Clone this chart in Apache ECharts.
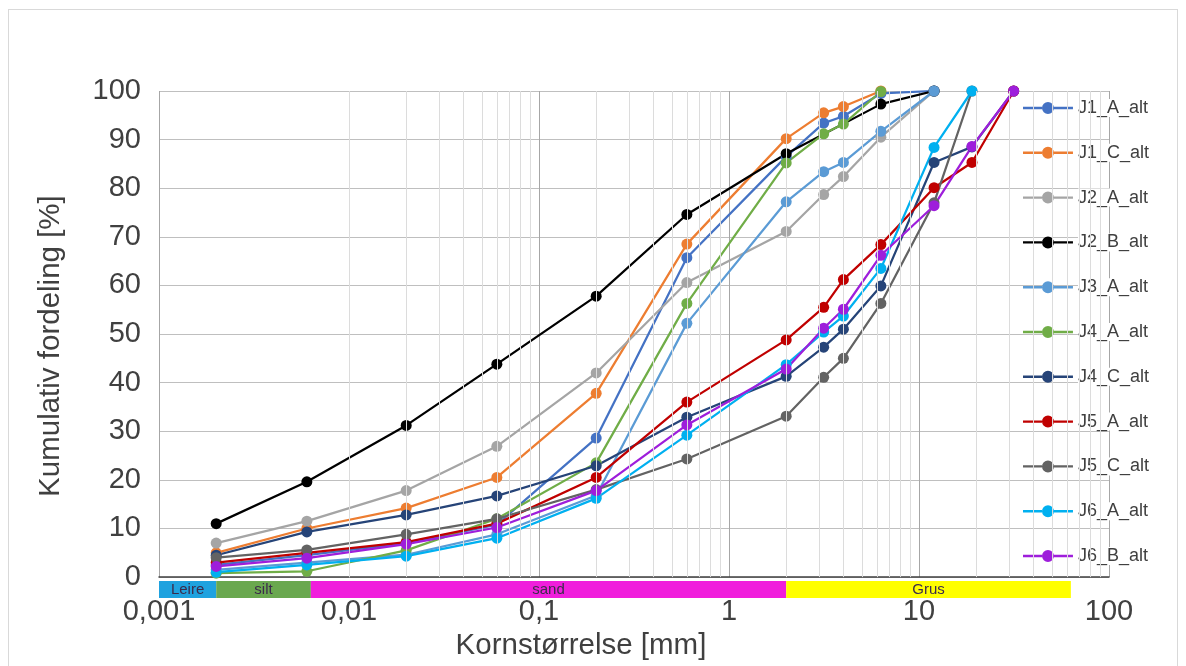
<!DOCTYPE html>
<html>
<head>
<meta charset="utf-8">
<script src="https://cdn.jsdelivr.net/npm/echarts@6/dist/echarts.min.js"></script>
<style>
  html, body { margin: 0; padding: 0; background: #fff; }
  #frame { position: absolute; left: 8px; top: 9px; width: 1170px; height: 660px; border: 1px solid #D9D9D9; box-sizing: border-box; }
  #chart { position: absolute; left: 0; top: 0; width: 1186px; height: 666px; }
</style>
</head>
<body>
<div id="frame"></div>
<div id="chart"></div>
<script>
// ── Data ───────────────────────────────────────────────
const SIZES = [0.002, 0.006, 0.02, 0.06, 0.2, 0.6, 2, 3.15, 4, 6.3, 12, 19, 31.5];

const J1_A = [2.5, 4.5, 7, 10.8, 28.6, 65.7, 86.5, 93.4, 94.8, 99.5, 100, null, null];
const J1_C = [5, 10, 14.2, 20.5, 37.8, 68.5, 90.2, 95.5, 96.8, 100, null, null, null];
const J2_A = [7, 11.5, 17.8, 26.9, 42, 60.6, 71.1, 78.7, 82.4, 90.5, 100, null, null];
const J2_B = [11, 19.6, 31.2, 43.8, 57.8, 74.6, 87.1, null, null, 97.3, 100, null, null];
const J3_A = [1.5, 3, 4.6, 8.8, 16.8, 52.2, 77.2, 83.4, 85.3, 91.7, 100, null, null];
const J4_A = [0.8, 1.2, 5.5, 12, 23.5, 56.3, 85.2, 91.2, 93.2, 99.9, null, null, null];
const J4_C = [4.5, 9.3, 12.8, 16.7, 22.9, 32.9, 41.3, 47.3, 51.0, 59.9, 85.3, 88.5, 100];
const J5_A = [3, 5, 7.2, 11, 20.5, 36.0, 48.8, 55.5, 61.2, 68.4, 80.1, 85.3, 100];
const J5_C = [4, 5.6, 8.8, 12, 18, 24.3, 33.1, 41.1, 45.0, 56.3, 77, 100, null];
const J6_A = [1, 2.5, 4.3, 8, 16.2, 29.2, 43.7, 50.4, 53.7, 63.5, 88.4, 100, null];
const J6_B = [2.2, 3.9, 6.8, 10.2, 17.8, 31.3, 42.8, 51.2, 55.1, 66.2, 76.4, 88.6, 100];

const SERIES_NAMES  = ['J1_A_alt', 'J1_C_alt', 'J2_A_alt', 'J2_B_alt', 'J3_A_alt', 'J4_A_alt',
                       'J4_C_alt', 'J5_A_alt', 'J5_C_alt', 'J6_A_alt', 'J6_B_alt'];
const SERIES_VALUES = [J1_A, J1_C, J2_A, J2_B, J3_A, J4_A, J4_C, J5_A, J5_C, J6_A, J6_B];
const SERIES_COLORS = ['#4472C4', '#ED7D31', '#A5A5A5', '#000000', '#5B9BD5', '#70AD47',
                       '#264478', '#C00000', '#636363', '#00B0F0', '#9E1EDB'];

// soil classes (band under the x axis)
const CLASS_NAMES  = ['Leire', 'silt', 'sand', 'Grus'];
const CLASS_BOUNDS = [0.001, 0.002, 0.0063, 2, 63];
const CLASS_COLORS = ['#1FA2DF', '#6AA84F', '#F01EDC', '#FFFF00'];

const X_TICKS = [0.001, 0.01, 0.1, 1, 10, 100];
const MINOR_TICKS = [];
for (let d = 0; d < X_TICKS.length - 1; d++) {
  for (let k = 2; k <= 9; k++) MINOR_TICKS.push(X_TICKS[d] * k);
}

// ── Chart ──────────────────────────────────────────────
const FONT = "'Liberation Sans', Arial, sans-serif";
const chart = echarts.init(document.getElementById('chart'));

const GRID = { left: 159, top: 91, width: 950, height: 488 };

// legend marker: short line with a dot in the middle (50 x 14 box)
const LEGEND_ICON = 'path://M0,5.8H19V8.2H0Z M31,5.8H50V8.2H31Z M19,7A6,6 0 1,0 31,7A6,6 0 1,0 19,7Z M0,0.5H0.01V0.51H0Z M0,13.5H0.01V13.51H0Z';

const lineSeries = SERIES_NAMES.map((name, i) => ({
  name,
  type: 'line',
  xAxisIndex: 0,
  yAxisIndex: 0,
  data: SIZES.map((s, j) => [s, SERIES_VALUES[i][j]]).filter(p => p[1] !== null),
  symbol: 'circle',
  symbolSize: 11,
  lineStyle: { width: 2.25, color: SERIES_COLORS[i] },
  itemStyle: { color: SERIES_COLORS[i] },
  z: 3,
  animation: false,
}));

chart.setOption({
  backgroundColor: 'transparent',
  animation: false,
  grid: [
    GRID,
    { left: GRID.left, top: 581, width: GRID.width, height: 17 },
  ],
  legend: {
    orient: 'vertical',
    left: 1018,
    top: 94,
    itemWidth: 50,
    itemHeight: 13,
    itemGap: 26.8,
    icon: LEGEND_ICON,
    data: SERIES_NAMES,
    textStyle: {
      fontFamily: FONT,
      fontSize: 18,
      color: '#404040',
      backgroundColor: '#fff',
    },
  },
  xAxis: [
    {
      type: 'log',
      gridIndex: 0,
      min: 0.001,
      max: 100,
      logBase: 10,
      splitNumber: 5,
      name: 'Kornstørrelse [mm]',
      nameLocation: 'middle',
      nameGap: 50,
      nameTextStyle: { fontFamily: FONT, fontSize: 29.5, color: '#404040', padding: [0, 106, 0, 0] },
      axisLine: { show: true, onZero: false, lineStyle: { color: '#404040', width: 1.5 } },
      axisTick: { show: false },
      axisLabel: {
        margin: 20,
        fontFamily: FONT,
        fontSize: 29,
        color: '#404040',
        formatter: v => String(v).replace('.', ','),
      },
      splitLine: { show: true, lineStyle: { color: '#A6A6A6', width: 1 } },
    },
    {
      type: 'log',
      gridIndex: 1,
      min: 0.001,
      max: 100,
      logBase: 10,
      show: false,
    },
  ],
  yAxis: [
    {
      type: 'value',
      gridIndex: 0,
      min: 0,
      max: 100,
      interval: 10,
      name: 'Kumulativ fordeling [%]',
      nameLocation: 'middle',
      nameGap: 93,
      nameTextStyle: { fontFamily: FONT, fontSize: 29.5, color: '#404040', padding: [0, 24, 0, 0] },
      axisLine: { show: false },
      axisTick: { show: false },
      axisLabel: { margin: 18, fontFamily: FONT, fontSize: 29, color: '#404040' },
      splitLine: { show: true, lineStyle: { color: '#BFBFBF', width: 1 } },
    },
    { type: 'value', gridIndex: 1, min: 0, max: 1, show: false },
  ],
  series: [
    // minor log gridlines (2..9 in each decade)
    {
      type: 'line',
      xAxisIndex: 0,
      yAxisIndex: 0,
      data: [],
      silent: true,
      z: 1,
      markLine: {
        silent: true,
        symbol: ['none', 'none'],
        label: { show: false },
        lineStyle: { color: '#DCDCDC', type: 'solid', width: 1 },
        data: MINOR_TICKS.map(v => ({ xAxis: v })),
        animation: false,
      },
    },
    // soil class band
    {
      type: 'line',
      xAxisIndex: 1,
      yAxisIndex: 1,
      data: [],
      silent: true,
      markArea: {
        silent: true,
        data: CLASS_NAMES.map((n, i) => [
          {
            name: n,
            xAxis: CLASS_BOUNDS[i],
            itemStyle: { color: CLASS_COLORS[i] },
            label: {
              show: true,
              position: 'inside',
              fontFamily: FONT,
              fontSize: 15,
              color: '#3B2B4B',
            },
          },
          { xAxis: CLASS_BOUNDS[i + 1] },
        ]),
        animation: false,
      },
    },
    ...lineSeries,
  ],
});
</script>
</body>
</html>
